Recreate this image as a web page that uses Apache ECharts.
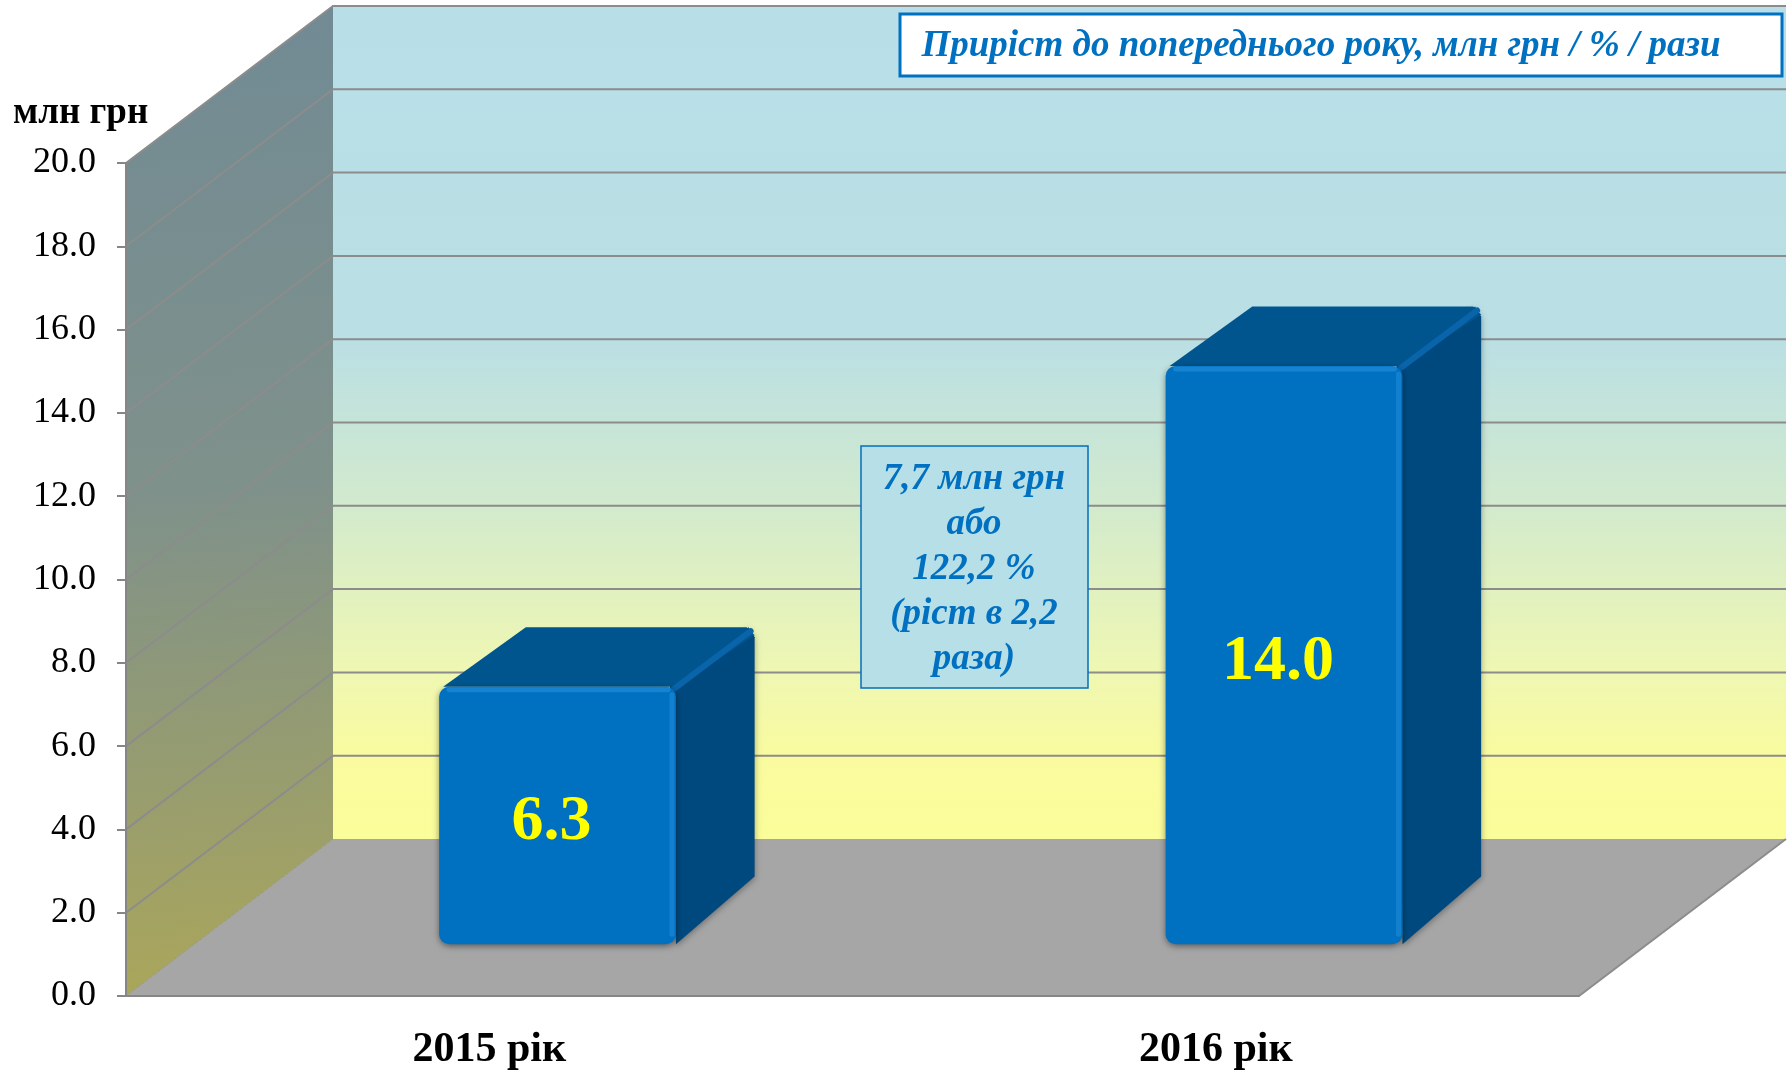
<!DOCTYPE html>
<html>
<head>
<meta charset="utf-8">
<title>Приріст до попереднього року</title>
<script src="https://cdn.jsdelivr.net/npm/echarts@6/dist/echarts.min.js"></script>
<style>
html, body { margin: 0; padding: 0; background: #fff; }
#chart { width: 1788px; height: 1072px; }
</style>
</head>
<body>
<div id="chart"></div>
<script>
let years = ['2015 рік', '2016 рік']
let values = [6.3, 14.0]
let yTicks = [0, 2, 4, 6, 8, 10, 12, 14, 16, 18, 20]
let titleText = 'Приріст до попереднього року, млн грн / % / рази'
let unitText = 'млн грн'
let noteLines = ['7,7 млн грн', 'або', '122,2 %', '(ріст в 2,2', 'раза)']

// глибина 3D-проекції, px
let depthX = 207, depthY = -157
let barFront = 0.33, barBack = 0.71
let font = '"Liberation Serif", "Times New Roman", serif'
let blue = '#0070c0'
let gridColor = '#8c8c8c'

var chart = echarts.init(document.getElementById('chart'))

//стіни та підлога
function wallsItem(params, api) {
	let cs = params.coordSys
	let x0 = cs.x, x1 = cs.x + cs.width
	let yb = api.coord([0, yTicks[0]])[1]
	let yt = api.coord([0, yTicks[yTicks.length - 1]])[1]
	return {
		type: 'group',
		children: [{
			type: 'polygon',
			shape: { points: [[x0, yb], [x0, yt], [x0 + depthX, yt + depthY], [x0 + depthX, yb + depthY]] },
			style: {
				fill: new echarts.graphic.LinearGradient(0, 0, 0.35, 1, [
					{ offset: 0, color: '#718a94' },
					{ offset: 0.5, color: '#7f918a' },
					{ offset: 1, color: '#aaa65a' }
				])
			}
		}, {
			type: 'rect',
			shape: { x: x0 + depthX, y: yt + depthY, width: x1 - x0, height: yb - yt },
			style: {
				fill: new echarts.graphic.LinearGradient(0, 0, 0, 1, [
					{ offset: 0, color: '#b8dfe8' },
					{ offset: 0.4, color: '#badfe4' },
					{ offset: 0.6, color: '#d2eacd' },
					{ offset: 0.8, color: '#eff7b2' },
					{ offset: 0.9, color: '#f9fb9f' },
					{ offset: 1, color: '#fbfd9a' }
				])
			}
		}, {
			type: 'polygon',
			shape: { points: [[x0, yb], [x1, yb], [x1 + depthX, yb + depthY], [x0 + depthX, yb + depthY]] },
			style: { fill: '#a6a6a6' }
		}, {
			type: 'line',
			shape: { x1: x1, y1: yb, x2: x1 + depthX, y2: yb + depthY },
			style: { stroke: gridColor, lineWidth: 2 }
		}, {
			type: 'line',
			shape: { x1: x0, y1: yb, x2: x0 + depthX, y2: yb + depthY },
			style: { stroke: '#9a9a7a', lineWidth: 1 }
		}]
	}
}

//лінії сітки
function gridItem(params, api) {
	let cs = params.coordSys
	let x0 = cs.x, x1 = cs.x + cs.width
	let y = api.coord([0, api.value(0)])[1]
	if (api.value(0) == 0) return null
	return {
		type: 'polyline',
		shape: { points: [[x0, y], [x0 + depthX, y + depthY], [x1 + depthX, y + depthY]] },
		style: { stroke: gridColor, lineWidth: 2, fill: null }
	}
}

//3D стовпчики
function barItem(params, api) {
	let idx = api.value(0), v = api.value(1)
	let base = api.coord([idx, 0]), top = api.coord([idx, v])
	let bw = api.size([1, 0])[0] * 0.326
	let ox = depthX * barFront, oy = depthY * barFront
	let bx = depthX * (barBack - barFront), by = depthY * (barBack - barFront)
	let l = base[0] - bw / 2 + ox, r = l + bw
	let t = top[1] + oy + 5, b = base[1] + oy
	return {
		type: 'group',
		children: [{
			type: 'polygon',
			shape: { points: [[r - 6, t], [r + bx - 6, t + by], [r + bx, t + by + 10], [r + bx, b + by - 8], [r, b]] },
			style: { fill: '#00497e', shadowBlur: 6, shadowColor: 'rgba(0,0,0,0.35)', shadowOffsetY: 2 }
		}, {
			type: 'polygon',
			shape: { points: [[l + 4, t], [l + bx + 8, t + by], [r + bx - 8, t + by], [r + bx, t + by + 8], [r, t]] },
			style: { fill: '#00558f' }
		}, {
			type: 'line',
			shape: { x1: r - 2, y1: t + 2, x2: r + bx - 4, y2: t + by + 4 },
			style: { stroke: '#0a64aa', lineWidth: 6, lineCap: 'round' }
		}, {
			type: 'rect',
			shape: { x: l, y: t, width: bw, height: b - t, r: 10 },
			style: { fill: blue, shadowBlur: 6, shadowColor: 'rgba(0,0,0,0.45)', shadowOffsetY: 2 }
		}, {
			type: 'line',
			shape: { x1: l + 10, y1: t + 3, x2: r - 8, y2: t + 3 },
			style: { stroke: '#1583d2', lineWidth: 5, lineCap: 'round' }
		}, {
			type: 'line',
			shape: { x1: r - 4, y1: t + 8, x2: r - 4, y2: b - 10 },
			style: { stroke: '#1280cf', lineWidth: 5, lineCap: 'round' }
		}, {
			type: 'text',
			x: (l + r) / 2 - 6,
			y: (t + b) / 2 + 7,
			style: {
				text: v.toFixed(1),
				fill: '#ffff00',
				fontSize: 64,
				fontWeight: 'bold',
				fontFamily: font,
				align: 'center',
				verticalAlign: 'middle'
			}
		}]
	}
}

chart.setOption({
	animation: false,
	grid: {
		left: 126,
		right: 209,
		top: 163,
		bottom: 76
	},
	xAxis: {
		type: 'category',
		data: years,
		z: 10,
		axisLine: { lineStyle: { color: '#868686', width: 2 } },
		axisTick: { length: 12, lineStyle: { color: '#868686', width: 2 } },
		axisLabel: {
			margin: 33,
			color: '#000',
			fontSize: 42,
			fontWeight: 'bold',
			fontFamily: font
		}
	},
	yAxis: {
		type: 'value',
		min: 0,
		max: 20,
		interval: 2,
		z: 10,
		splitLine: { show: false },
		axisLine: { show: true, lineStyle: { color: '#868686', width: 2 } },
		axisTick: { show: true, length: 9, lineStyle: { color: '#868686', width: 2 } },
		axisLabel: {
			margin: 30,
			color: '#000',
			fontSize: 36,
			fontFamily: font,
			formatter: function(v) {
				return v.toFixed(1)
			}
		}
	},
	series: [{
		type: 'custom',
		z: 1,
		clip: false,
		silent: true,
		renderItem: wallsItem,
		data: [[0]]
	}, {
		type: 'custom',
		z: 1,
		clip: false,
		silent: true,
		renderItem: gridItem,
		data: yTicks.map(function(v) { return [v] })
	}, {
		type: 'custom',
		z: 3,
		clip: false,
		renderItem: barItem,
		encode: { x: 0, y: 1 },
		data: values.map(function(v, i) { return [i, v] })
	}],
	graphic: [{
		type: 'text',
		z: 100,
		x: 13,
		y: 113,
		style: {
			text: unitText,
			fill: '#000',
			fontSize: 37,
			fontWeight: 'bold',
			fontFamily: font,
			verticalAlign: 'middle'
		}
	}, {
		type: 'rect',
		z: 100,
		shape: { x: 900, y: 14, width: 882, height: 62 },
		style: { fill: '#fff', stroke: blue, lineWidth: 3 }
	}, {
		type: 'text',
		z: 101,
		x: 1321,
		y: 46,
		style: {
			text: titleText,
			fill: blue,
			fontSize: 37,
			fontWeight: 'bold',
			fontStyle: 'italic',
			fontFamily: font,
			align: 'center',
			verticalAlign: 'middle'
		}
	}, {
		type: 'rect',
		z: 100,
		shape: { x: 861, y: 446, width: 227, height: 242 },
		style: { fill: '#b7dfe8', stroke: blue, lineWidth: 1.5 }
	}, {
		type: 'text',
		z: 101,
		x: 974,
		y: 569,
		style: {
			text: noteLines.join('\n'),
			fill: blue,
			fontSize: 37,
			lineHeight: 45,
			fontWeight: 'bold',
			fontStyle: 'italic',
			fontFamily: font,
			align: 'center',
			verticalAlign: 'middle'
		}
	}]
})
</script>
</body>
</html>
